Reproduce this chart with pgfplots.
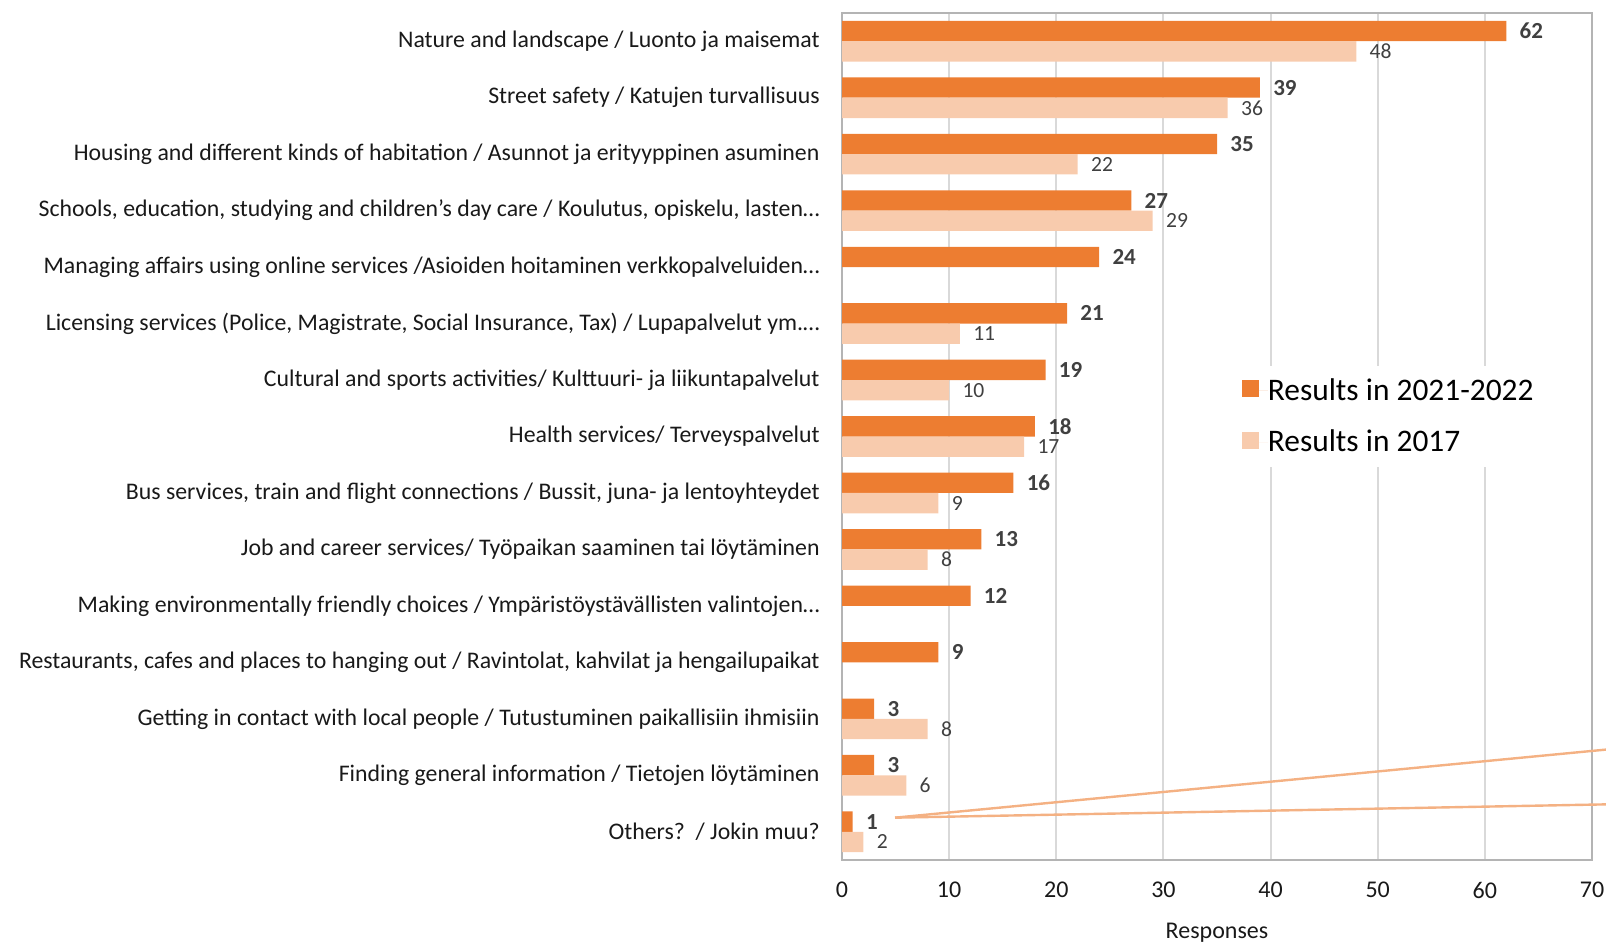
\documentclass[border=0pt]{standalone}
\usepackage{fontspec}
\setmainfont{Carlito}
\usepackage{pgfplots}
\usepackage{pgfplotstable}
\pgfplotsset{compat=1.18}
\usetikzlibrary{calc}

\definecolor{darkor}{HTML}{ED7D31}
\definecolor{lightor}{HTML}{F8CBAD}
\definecolor{callout}{HTML}{F4B183}
\definecolor{labgray}{HTML}{404040}
\definecolor{gridgray}{HTML}{D9D9D9}
\definecolor{framegray}{HTML}{B4B4B4}

% category index (0 = top) and responses
\pgfplotstableread{
idx val
0 62
1 39
2 35
3 27
4 24
5 21
6 19
7 18
8 16
9 13
10 12
11 9
12 3
13 3
14 1
}\recent

\pgfplotstableread{
idx val
0 48
1 36
2 22
3 29
5 11
6 10
7 17
8 9
9 8
12 8
13 6
14 2
}\older

\begin{document}
\begin{tikzpicture}
\begin{axis}[
    xbar,
    scale only axis,
    width=375pt, height=423.5pt,
    xmin=0, xmax=70,
    ymin=-0.5, ymax=14.5,
    y dir=reverse,
    xtick={0,10,...,70},
    ytick={0,...,14},
    yticklabels={
        {Nature and landscape / Luonto ja maisemat},
        {Street safety / Katujen turvallisuus},
        {Housing and different kinds of habitation / Asunnot ja erityyppinen asuminen},
        {Schools, education, studying and children’s day care / Koulutus, opiskelu, lasten…},
        {Managing affairs using online services /Asioiden hoitaminen verkkopalveluiden…},
        {Licensing services (Police, Magistrate, Social Insurance, Tax) / Lupapalvelut ym.…},
        {Cultural and sports activities/ Kulttuuri- ja liikuntapalvelut},
        {Health services/ Terveyspalvelut},
        {Bus services, train and flight connections / Bussit, juna- ja lentoyhteydet},
        {Job and career services/ Työpaikan saaminen tai löytäminen},
        {Making environmentally friendly choices / Ympäristöystävällisten valintojen…},
        {Restaurants, cafes and places to hanging out / Ravintolat, kahvilat ja hengailupaikat},
        {Getting in contact with local people / Tutustuminen paikallisiin ihmisiin},
        {Finding general information / Tietojen löytäminen},
        {Others?\ \ / Jokin muu?}
    },
    major tick length=0pt,
    xmajorgrids,
    grid style={gridgray, line width=1pt},
    axis line style={framegray, line width=1pt},
    /pgf/number format/assume math mode=true,
    yticklabel style={font=\fontsize{11.9}{14}\selectfont, inner sep=0pt, xshift=-11pt, text=black!90},
    xticklabel style={font=\fontsize{12}{14}\selectfont, inner sep=0pt, yshift=-11pt, text=black!90},
    xlabel={Responses},
    xlabel style={font=\fontsize{12}{14}\selectfont, text=black!90, yshift=-8.5pt},
    bar width=0.36,
    point meta=x,
    clip=false,
    legend style={
        at={(axis cs:33.4,5.75)}, anchor=north west,
        draw=none, fill=white,
        inner xsep=21pt, inner ysep=6pt,
        font=\fontsize{15.7}{18}\selectfont,
        nodes={inner sep=0pt},
        row sep=13.5pt,
    },
    legend cell align=left,
    legend image code/.code={%
        \fill[#1] (0pt,-3.2pt) rectangle (8.5pt,5.3pt);
        \path (0pt,0pt) -- (12.8pt,0pt);},
]
\addplot[xbar, fill=darkor, draw=none, bar shift=-0.18,
    nodes near coords,
    nodes near coords style={font=\bfseries\fontsize{11.5}{13}\selectfont, text=labgray, anchor=west, inner sep=0pt, xshift=6.5pt}]
    table[x=val, y=idx] {\recent};
\addlegendentry{Results in 2021-2022}

\addplot[xbar, fill=lightor, draw=none, bar shift=0.18,
    nodes near coords,
    nodes near coords style={font=\fontsize{10.8}{12}\selectfont, text=labgray, anchor=west, inner sep=0pt, xshift=6.5pt}]
    table[x=val, y=idx] {\older};
\addlegendentry{Results in 2017}

% callout lines from the smallest bar
\draw[callout, line width=1.2pt] (axis cs:4.95,13.75) -- (axis cs:75.4,12.47);
\draw[callout, line width=1.2pt] (axis cs:4.95,13.75) -- (axis cs:75.4,13.5);

\coordinate (bl) at (axis cs:0,14.5);
\coordinate (tr) at (axis cs:70,-0.5);
\end{axis}
\pgfresetboundingbox
\path[use as bounding box] ($(bl)+(-421pt,-41pt)$) rectangle ($(tr)+(7pt,6.5pt)$);
\end{tikzpicture}
\end{document}
